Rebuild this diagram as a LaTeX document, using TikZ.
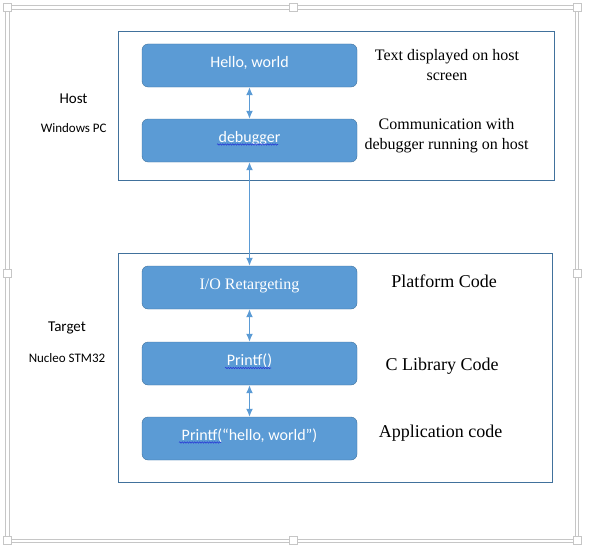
\documentclass[tikz,border=0pt]{standalone}
\usepackage{fontspec}
\setmainfont{Liberation Serif}
\newfontfamily\calibri{Carlito}
\usetikzlibrary{arrows.meta,decorations.pathmorphing}
\definecolor{boxblue}{HTML}{5B9BD5}
\definecolor{edgeblue}{HTML}{41719C}
\definecolor{framegray}{HTML}{C6C6C6}
\definecolor{spellblue}{HTML}{2B3DD6}

\begin{document}
\begin{tikzpicture}[x=1pt,y=-1pt,
  layer/.style={draw=edgeblue, fill=boxblue, rounded corners=6pt, minimum width=215pt, minimum height=43pt, text=white, inner sep=0pt, text height=12pt, text depth=8.6pt},
  group/.style={draw=edgeblue, line width=0.9pt},
  link/.style={draw=boxblue, line width=1.2pt, {Latex[length=8pt,width=7pt]}-{Latex[length=8pt,width=7pt]}},
  wave/.style={draw=spellblue, line width=0.6pt, decorate, decoration={snake, segment length=2.5pt, amplitude=0.7pt}},
  note/.style={align=center, font=\fontsize{16}{19.5}\selectfont},
  bignote/.style={align=center, font=\fontsize{18}{21}\selectfont},
  side/.style={font=\calibri\fontsize{15}{18}\selectfont},
  sidesmall/.style={font=\calibri\fontsize{13}{16}\selectfont}]
\useasboundingbox (0,0) rectangle (589,551);

% canvas frame with handles
\draw[framegray] (5,5) rectangle (578,542);
\draw[framegray] (9,9) rectangle (575,539);
\foreach \hx/\hy in {7/7, 293/7, 577/7, 7/273, 577/273, 7/540, 293/540, 577/540} {
    \filldraw[draw=framegray, fill=white] (\hx-4,\hy-4) rectangle (\hx+4,\hy+4);
}

% Host side
\draw[group] (118,31) rectangle (554,180);
\node[side] (host) at (73.5,98.5) {Host};
\node[sidesmall] (hostpc) at (73.7,128) {Windows PC};
\node[layer, font=\calibri\fontsize{16}{19}\selectfont] (hello) at (249.5,65.5) {Hello, world};
\node[layer, font=\calibri\fontsize{16}{19}\selectfont] (debugger) at (249.5,140.5) {debugger};
\node[note] (hellonote) at (447,65) {Text displayed on host\\screen};
\node[note] (debugnote) at (446.5,135.5) {Communication with\\debugger running on host};

% Target side
\draw[group] (118,253) rectangle (552,482);
\node[side] (target) at (67,327.5) {Target};
\node[sidesmall] (targetboard) at (67,358) {Nucleo STM32};
\node[layer, font=\fontsize{16}{19}\selectfont] (retarget) at (249.5,287.5) {I/O Retargeting};
\node[layer, font=\calibri\fontsize{16}{19}\selectfont] (printf) at (249.5,363.5) {Printf()};
\node[layer, font=\calibri\fontsize{16}{19}\selectfont] (app) at (249.5,438.5) {Printf(“hello, world”)};
\node[bignote] (platnote) at (444,281) {Platform Code};
\node[bignote] (libnote) at (442,366) {C Library Code};
\node[bignote] (appnote) at (440.5,433) {Application code};

% spell-check underlines
\draw[wave] (217,144.5) -- (278,144.5);
\draw[wave] (225,368) -- (271,368);
\draw[wave] (179,442.5) -- (221,442.5);

% links
\draw[link] (hello) -- (debugger);
\draw[link] (debugger) -- (retarget);
\draw[link] (retarget) -- (printf);
\draw[link] (printf) -- (app);
\end{tikzpicture}
\end{document}
